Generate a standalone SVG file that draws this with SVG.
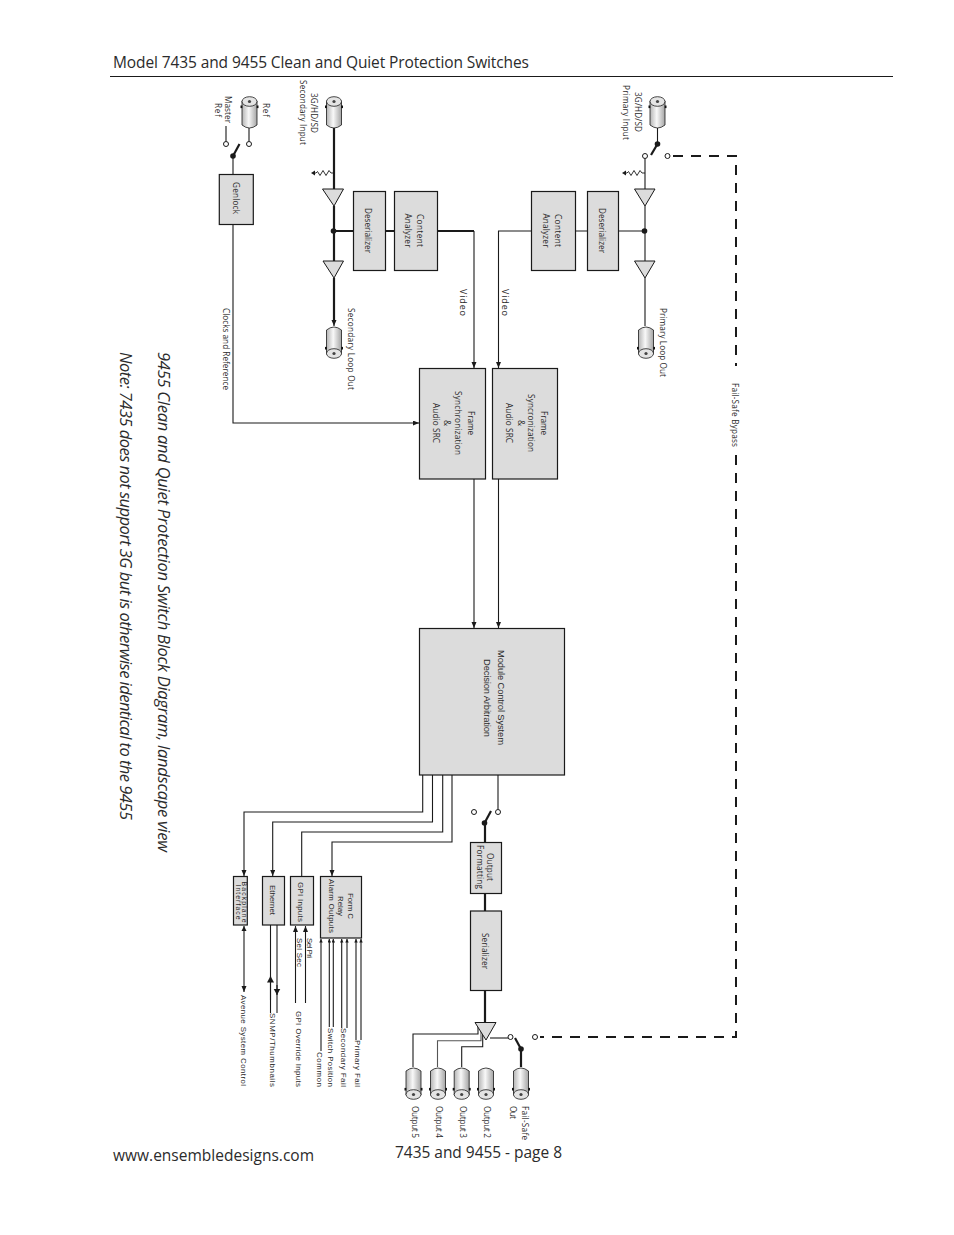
<svg xmlns="http://www.w3.org/2000/svg" width="954" height="1235" viewBox="0 0 954 1235">
<style>
text{font-family:"Open Sans","Noto Sans","Liberation Sans",sans-serif;fill:#2b2b2b}
.s{font-size:8.200px;text-anchor:middle}
.l{font-size:8.200px}
.a{font-family:"Liberation Sans",Arial,sans-serif;font-size:7.900px}
.am{font-family:"Liberation Sans",Arial,sans-serif;font-size:7.900px;text-anchor:middle}
.b{fill:#dcdcdc;stroke:#1a1a1a;stroke-width:1.2}
.t{fill:none;stroke:#1a1a1a;stroke-width:1.1}
.k{fill:none;stroke:#1a1a1a;stroke-width:2.2}
.c{fill:#fff;stroke:#1a1a1a;stroke-width:1}
.tri{fill:#dcdcdc;stroke:#1a1a1a;stroke-width:1}
.d{fill:#1a1a1a}
.dash{fill:none;stroke:#1a1a1a;stroke-width:2;stroke-dasharray:10 8}
</style>
<defs>
<marker id="h" markerUnits="userSpaceOnUse" markerWidth="8" markerHeight="8" refX="6" refY="2.500" orient="auto"><path d="M0 0L6 2.500L0 5Z" fill="#1a1a1a"/></marker>
<marker id="hm" markerUnits="userSpaceOnUse" markerWidth="5" markerHeight="5" refX="3.500" refY="1.750" orient="auto"><path d="M0 0L3.500 1.750L0 3.500Z" fill="#1a1a1a"/></marker>
<marker id="hb" markerUnits="userSpaceOnUse" markerWidth="8" markerHeight="8" refX="6.500" refY="3.500" orient="auto"><path d="M0 0L6.500 3.500L0 7Z" fill="#1a1a1a"/></marker>
<marker id="hr" markerUnits="userSpaceOnUse" markerWidth="6" markerHeight="6" refX="0" refY="2.500" orient="auto"><path d="M5 0L0 2.500L5 5Z" fill="#1a1a1a"/></marker>
<linearGradient id="g"><stop offset="0" stop-color="#b4b4b4"/><stop offset=".45" stop-color="#f8f8f8"/><stop offset="1" stop-color="#a4a4a4"/></linearGradient>
<g id="bnc">
<path d="M-7.500 5V29Q0 35 7.500 29V5Z" fill="url(#g)" stroke="#1a1a1a" stroke-width=".8"/>
<ellipse cx="0" cy="5.500" rx="7.500" ry="4.800" fill="#e4e4e4" stroke="#1a1a1a" stroke-width=".8"/>
<circle cx="0" cy="5.500" r="1.600" fill="#444"/>
<rect x="-9" y="9.500" width="1.800" height="2.600" fill="#111"/><rect x="7.200" y="9.500" width="1.800" height="2.600" fill="#111"/>
</g>
<g id="res">
<path d="M0 0h-3l-2-2.500-3 5-3-5-3 5-2.500-4-1.500 1.500h-3" fill="none" stroke="#1a1a1a" stroke-width=".9"/>
<path d="M-23 0l4-2.500v5Z" fill="#1a1a1a"/>
</g>
</defs>
<rect width="954" height="1235" fill="#fff"/>

<g id="page-header">
<text x="113" y="68" font-size="15.500" textLength="416">Model 7435 and 9455 Clean and Quiet Protection Switches</text>
<path d="M110 76.500H893" stroke="#1a1a1a" stroke-width="1"/>
</g>
<g id="titles">
<text transform="translate(158,352) rotate(90)" font-size="16.500" font-style="italic" textLength="500">9455 Clean and Quiet Protection Switch Block Diagram, landscape view</text>
<text transform="translate(120,352) rotate(90)" font-size="16.500" font-style="italic" textLength="468">Note: 7435 does not support 3G but is otherwise identical to the 9455</text>
</g>
<g id="page-footer">
<text x="113" y="1161" font-size="15.500" textLength="201">www.ensembledesigns.com</text>
<text x="395" y="1158" font-size="15.500" textLength="167">7435 and 9455 - page 8</text>
</g>

<g id="connectors">
<path class="t" d="M233 175V156"/>
<path class="t" d="M226 126V141.500M249 128V141.500"/>
<path class="t" d="M233 224V423H419" marker-end="url(#h)"/>
<path class="k" d="M334 128V189M334 206V261M334 278V320"/>
<path class="t" d="M334 319V326" marker-end="url(#h)"/>
<path class="k" d="M334 231H353M385 231H394M437 231H474"/>
<path class="t" d="M474 231V368" marker-end="url(#h)"/>
<use href="#res" x="334" y="173"/>
<path class="t" d="M657.500 128V143M645 158.500V189M645 206V261M645 278V326"/>
<use href="#res" x="645" y="173"/>
<path class="t" d="M645 231H618M587 231H575M531 231H498.500V368" marker-end="url(#h)"/>
<path class="dash" d="M673 156H736V366"/>
<path class="dash" d="M736 455V1037H540"/>
<path class="t" d="M474 479V628" marker-end="url(#h)"/>
<path class="t" d="M498.500 479V628" marker-end="url(#h)"/>
<path class="t" d="M422.700 775V812H244V876" marker-end="url(#h)"/>
<path class="t" d="M432.500 775V822H272.700V876" marker-end="url(#h)"/>
<path class="t" d="M442.700 775V832H301.700V876"/>
<path class="t" d="M452 775V842H332V876" marker-end="url(#h)"/>
<path class="t" d="M244 926V992" marker-start="url(#hr)" marker-end="url(#h)"/>
<path class="t" d="M270.500 925V1013"/><path class="t" d="M270.500 1000V976" marker-end="url(#hb)"/>
<path class="t" d="M277 925V1013"/><path class="t" d="M277 985V995" marker-end="url(#hb)"/>
<path class="t" d="M295.500 1003V926" marker-end="url(#h)"/>
<path class="t" d="M305.500 1003V926" marker-end="url(#h)"/>
<path class="t" d="M321 1051V939" marker-end="url(#hm)"/>
<path class="t" d="M329.300 1027V939" marker-end="url(#hm)"/>
<path class="t" d="M333.300 1027V939" marker-end="url(#hm)"/>
<path class="t" d="M341.700 1028V939" marker-end="url(#hm)"/>
<path class="t" d="M347 1028V939" marker-end="url(#hm)"/>
<path class="t" d="M356 1040V939" marker-end="url(#hm)"/>
<path class="t" d="M361 1040V939" marker-end="url(#hm)"/>
<path class="t" d="M498 775V809.500"/>
<path class="k" d="M485 823V842M485 893V911M485 990V1022"/>
<path class="t" d="M478 1024V1034H413V1067"/>
<path class="t" d="M481 1028V1040.700H437.500V1067" style="stroke:#555"/>
<path class="t" d="M482.700 1031V1046.700H461.700V1067"/>
<path class="t" d="M490 1038H508"/>
<path class="k" d="M521 1049V1067"/>
</g>

<g id="ref-bnc"><use href="#bnc" x="249.500" y="96"/><text class="l" transform="translate(263,103) rotate(90)" textLength="14">Ref</text></g>
<g id="master-ref-label"><text class="l" transform="translate(224.500,96) rotate(90)" textLength="27">Master</text><text class="l" transform="translate(215,103) rotate(90)" textLength="14">Ref</text></g>
<g id="ref-switch"><circle class="c" cx="226" cy="144" r="2.500"/><circle class="c" cx="249" cy="144" r="2.500"/><path class="k" d="M233 156L239.500 144"/><circle class="d" cx="233" cy="156" r="2.800"/></g>
<g id="genlock"><rect class="b" x="219.300" y="174.500" width="34" height="50"/><text class="l" transform="translate(233,182) rotate(90)" textLength="32">Genlock</text></g>
<g id="sec-input"><use href="#bnc" x="334" y="96"/><text class="l" transform="translate(311,93) rotate(90)" textLength="40">3G/HD/SD</text><text class="l" transform="translate(300,80) rotate(90)" textLength="65">Secondary Input</text></g>
<g id="sec-buffer-in"><path class="tri" d="M322.500 189H343.500L334 206Z"/></g>
<g id="sec-junction"><circle class="d" cx="333.500" cy="231" r="2.800"/></g>
<g id="sec-buffer-out"><path class="tri" d="M323 261H343.500L334 278Z"/></g>
<g id="sec-deserializer"><rect class="b" x="353.500" y="191.500" width="32" height="79"/><text class="l" transform="translate(365,208) rotate(90)" textLength="45">Deserializer</text></g>
<g id="sec-analyzer"><rect class="b" x="394.500" y="191.500" width="43" height="79"/><text class="l" transform="translate(417,214) rotate(90)" textLength="33">Content</text><text class="l" transform="translate(405,213.500) rotate(90)" textLength="34">Analyzer</text></g>
<g id="sec-loop"><use href="#bnc" transform="translate(334,359) scale(1,-1)"/><text class="l" transform="translate(347.500,308) rotate(90)" textLength="82">Secondary Loop Out</text></g>
<g id="video-sec"><text class="l" transform="translate(460,289) rotate(90)" style="font-size:9px" textLength="27">Video</text></g>

<g id="pri-input"><use href="#bnc" x="657.500" y="96"/><text class="l" transform="translate(635,92) rotate(90)" textLength="40">3G/HD/SD</text><text class="l" transform="translate(623,85) rotate(90)" textLength="55">Primary Input</text></g>
<g id="pri-switch"><circle class="c" cx="645" cy="156" r="2.500"/><circle class="c" cx="667.500" cy="156" r="2.500"/><path class="k" d="M657.500 144L651 155"/><circle class="d" cx="657.500" cy="144" r="2.800"/></g>
<g id="pri-buffer-in"><path class="tri" d="M634.500 189H655L645 206Z"/></g>
<g id="pri-junction"><circle class="d" cx="644.500" cy="231" r="2.800"/></g>
<g id="pri-buffer-out"><path class="tri" d="M634.500 261H655L645 278Z"/></g>
<g id="pri-deserializer"><rect class="b" x="587.500" y="191.500" width="31" height="79"/><text class="l" transform="translate(599,208) rotate(90)" textLength="45">Deserializer</text></g>
<g id="pri-analyzer"><rect class="b" x="531.500" y="191.500" width="44" height="79"/><text class="l" transform="translate(555,214) rotate(90)" textLength="33">Content</text><text class="l" transform="translate(543,213.500) rotate(90)" textLength="34">Analyzer</text></g>
<g id="pri-loop"><use href="#bnc" transform="translate(646,359) scale(1,-1)"/><text class="l" transform="translate(660,308) rotate(90)" textLength="69">Primary Loop Out</text></g>
<g id="video-pri"><text class="l" transform="translate(501.500,289) rotate(90)" style="font-size:9px" textLength="27">Video</text></g>
<g id="clocks-label"><text class="l" transform="translate(222.500,308) rotate(90)" textLength="82">Clocks and Reference</text></g>
<g id="bypass-label"><text class="l" transform="translate(732,383) rotate(90)" textLength="64">Fail-Safe Bypass</text></g>

<g id="frame-sync-sec"><rect class="b" x="419.500" y="368.500" width="66" height="110.500"/><text class="s" transform="translate(467.500,423) rotate(90)" textLength="24">Frame</text><text class="s" transform="translate(455,423) rotate(90)" textLength="64">Synchronization</text><text class="s" transform="translate(444,423) rotate(90)">&amp;</text><text class="s" transform="translate(433,423) rotate(90)" textLength="40">Audio SRC</text></g>
<g id="frame-sync-pri"><rect class="b" x="492.500" y="368.500" width="65" height="110.500"/><text class="s" transform="translate(541,423) rotate(90)" textLength="24">Frame</text><text class="s" transform="translate(528,423) rotate(90)" textLength="58">Syncronization</text><text class="s" transform="translate(518,423) rotate(90)">&amp;</text><text class="s" transform="translate(506,423) rotate(90)" textLength="40">Audio SRC</text></g>
<g id="module-control"><rect class="b" x="419.500" y="628.500" width="145" height="146.500"/><text class="am" transform="translate(498,697.500) rotate(90)" style="font-size:9.400px" textLength="95">Module Control System</text><text class="am" transform="translate(484,698) rotate(90)" style="font-size:9.400px" textLength="78">Decision Arbitration</text></g>

<g id="backplane"><rect class="b" x="233.500" y="876.500" width="13.800" height="48.500"/><text class="am" transform="translate(241.500,902) rotate(90)" style="font-size:6.800px" textLength="41">Backplane</text><text class="am" transform="translate(235.500,902) rotate(90)" style="font-size:6.800px" textLength="35">Interface</text></g>
<g id="ethernet"><rect class="b" x="262.500" y="876.500" width="22" height="48.500"/><text class="am" transform="translate(270,900) rotate(90)" textLength="30">Ethernet</text></g>
<g id="gpi"><rect class="b" x="290.500" y="876.500" width="23" height="48.500"/><text class="am" transform="translate(298,902) rotate(90)" textLength="40">GPI Inputs</text></g>
<g id="form-c"><rect class="b" x="320.500" y="876.500" width="41" height="61.500"/><text class="am" transform="translate(348,906) rotate(90)" textLength="26">Form C</text><text class="am" transform="translate(338,906) rotate(90)" textLength="20">Relay</text><text class="am" transform="translate(329,906) rotate(90)" textLength="54">Alarm Outputs</text></g>
<g id="backplane-labels">
<text class="a" transform="translate(241,995) rotate(90)" textLength="91">Avenue System Control</text>
<text class="a" transform="translate(270,1013) rotate(90)" textLength="74">SNMP/Thumbnails</text>
<text class="a" transform="translate(296,1011) rotate(90)" textLength="76">GPI Override Inputs</text>
<text class="a" transform="translate(297,938) rotate(90)" textLength="29">Sel Sec</text>
<text class="a" transform="translate(307,938) rotate(90)" textLength="20">Sel Pri</text>
<text class="a" transform="translate(317,1052) rotate(90)" textLength="35">Common</text>
<text class="a" transform="translate(328,1028) rotate(90)" textLength="59">Switch Position</text>
<text class="a" transform="translate(341,1028) rotate(90)" textLength="59">Secondary Fail</text>
<text class="a" transform="translate(355,1040) rotate(90)" textLength="47">Primary Fail</text>
</g>

<g id="out-switch"><circle class="c" cx="474" cy="812" r="2.500"/><circle class="c" cx="498" cy="812" r="2.500"/><path class="k" d="M484.500 823L491 811"/><circle class="d" cx="484.500" cy="823" r="2.800"/></g>
<g id="out-format"><rect class="b" x="470.500" y="842.500" width="31" height="51"/><text class="s" transform="translate(487,867) rotate(90)" textLength="28">Output</text><text class="s" transform="translate(477,867) rotate(90)" textLength="44">Formatting</text></g>
<g id="serializer"><rect class="b" x="470.500" y="911" width="31" height="79.500"/><text class="s" transform="translate(481.500,951) rotate(90)" textLength="36">Serializer</text></g>
<g id="out-buffer"><path class="tri" d="M475 1022.500H496L486 1040Z"/></g>
<g id="fs-switch"><circle class="c" cx="510.500" cy="1037" r="2.500"/><circle class="c" cx="535" cy="1037" r="2.500"/><path class="k" d="M521 1049L515 1038"/><circle class="d" cx="521" cy="1049" r="2.800"/></g>
<g id="out5"><use href="#bnc" transform="translate(413.500,1100) scale(1,-1)"/><text class="l" transform="translate(411.500,1106) rotate(90)" textLength="32">Output 5</text></g>
<g id="out4"><use href="#bnc" transform="translate(438,1100) scale(1,-1)"/><text class="l" transform="translate(435.500,1106) rotate(90)" textLength="32">Output 4</text></g>
<g id="out3"><use href="#bnc" transform="translate(461.700,1100) scale(1,-1)"/><text class="l" transform="translate(459.500,1106) rotate(90)" textLength="32">Output 3</text></g>
<g id="out2"><use href="#bnc" transform="translate(486,1100) scale(1,-1)"/><text class="l" transform="translate(483.500,1106) rotate(90)" textLength="32">Output 2</text></g>
<g id="fs-out"><use href="#bnc" transform="translate(521,1100) scale(1,-1)"/><text class="l" transform="translate(521.500,1106) rotate(90)" textLength="34">Fail-Safe</text><text class="l" transform="translate(510,1106) rotate(90)" textLength="13">Out</text></g>
</svg>
